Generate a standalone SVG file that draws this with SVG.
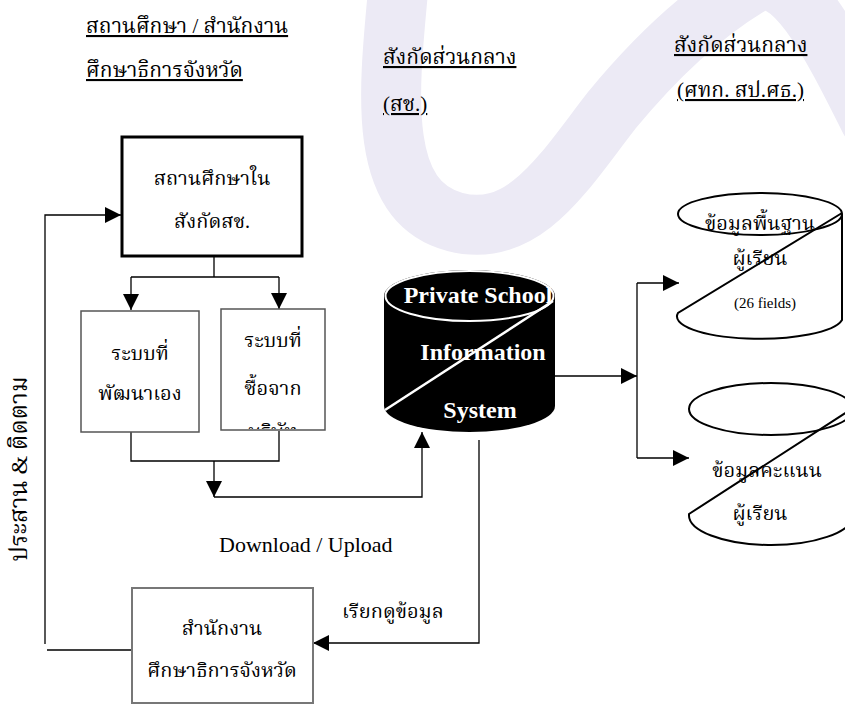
<svg xmlns="http://www.w3.org/2000/svg" width="845" height="704" viewBox="0 0 845 704">
<style>
.th{font-family:"Liberation Serif","Noto Serif Thai","Noto Sans Thai","DejaVu Sans",serif;font-size:20px;fill:#000}
.hd{text-decoration:underline;font-size:21px}
.vt{font-size:24px}
.en{font-family:"Liberation Serif","Times New Roman",serif;fill:#000}
.wb{font-family:"Liberation Serif","Times New Roman",serif;font-weight:bold;font-size:24px;fill:#fff;text-anchor:middle}
.c{text-anchor:middle}
.ln{fill:none;stroke:#000;stroke-width:1.3}
.bx{fill:#fff;stroke:#555;stroke-width:1.5}
.cyl{fill:none;stroke:#000;stroke-width:2}
</style>
<defs>
<marker id="ah" markerUnits="userSpaceOnUse" markerWidth="16" markerHeight="16" refX="16" refY="8" orient="auto" viewBox="0 0 16 16">
<path d="M0,0 L16,8 L0,16 z" fill="#000"/>
</marker>
<clipPath id="clipB3"><rect x="222" y="310" width="102" height="119"/></clipPath>
</defs>
<rect width="845" height="704" fill="#fff"/>
<g id="watermark">
<path d="M400,-30 C390,80 372,200 455,222 C525,240 565,170 612,110 C655,58 700,15 750,-15 C790,-40 830,40 870,120" fill="none" stroke="#eceaf5" stroke-width="60" stroke-linecap="round"/>
</g>
<g id="headers">
<text class="th hd" x="86" y="33">สถานศึกษา / สำนักงาน</text>
<text class="th hd" x="86" y="77">ศึกษาธิการจังหวัด</text>
<text class="th hd" x="383" y="64">สังกัดส่วนกลาง</text>
<text class="th hd" x="383" y="111">(สช.)</text>
<text class="th hd" x="674" y="52">สังกัดส่วนกลาง</text>
<text class="th hd" x="677" y="97">(ศทก. สป.ศธ.)</text>
</g>
<g id="connectors">
<path class="ln" d="M214,257 V277 M131,277 H279"/>
<path class="ln" d="M131,277 V310" marker-end="url(#ah)"/>
<path class="ln" d="M279,277 V309" marker-end="url(#ah)"/>
<path class="ln" d="M131,432 V461 H279 V431"/>
<path class="ln" d="M214,461 V497" marker-end="url(#ah)"/>
<path class="ln" d="M214,497 H422 V432" marker-end="url(#ah)"/>
<path class="ln" d="M479,440 V643 H313" marker-end="url(#ah)"/>
<path class="ln" d="M555,376 H637" marker-end="url(#ah)"/>
<path class="ln" d="M637,283 V458"/>
<path class="ln" d="M637,283 H679" marker-end="url(#ah)"/>
<path class="ln" d="M637,458 H689" marker-end="url(#ah)"/>
<path class="ln" d="M132,650 H47 M45,644 V215 H121" marker-end="url(#ah)"/>
</g>
<g id="n-school">
<rect x="122" y="137" width="180" height="119" fill="#fff" stroke="#000" stroke-width="3"/>
<text class="th c" x="212" y="185">สถานศึกษาใน</text>
<text class="th c" x="212" y="228">สังกัดสช.</text>
</g>
<g id="n-self">
<rect class="bx" x="81" y="311" width="118" height="121"/>
<text class="th c" x="140" y="360">ระบบที่</text>
<text class="th c" x="140" y="400">พัฒนาเอง</text>
</g>
<g id="n-bought">
<rect class="bx" x="221" y="309" width="104" height="121"/>
<g clip-path="url(#clipB3)">
<text class="th c" x="273" y="347">ระบบที่</text>
<text class="th c" x="273" y="395">ซื้อจาก</text>
<text class="th c" x="273" y="438">บริษัท</text>
</g>
</g>
<g id="n-psis">
<path d="M384,296 A85.5,26 0 0 1 555,296 V406 A85.5,26 0 0 1 384,406 Z" fill="#000"/>
<ellipse cx="469.5" cy="296" rx="84" ry="25" fill="none" stroke="#fff" stroke-width="2"/>
<line x1="385" y1="410" x2="553" y2="301" stroke="#fff" stroke-width="2.5"/>
<text class="wb" x="478" y="303">Private School</text>
<text class="wb" x="483" y="360">Information</text>
<text class="wb" x="480" y="418">System</text>
</g>
<g id="n-student">
<ellipse class="cyl" cx="760" cy="214" rx="82" ry="21"/>
<path class="cyl" d="M842,214 V320 A82,22 0 0 1 678,313 L842,213"/>
<text class="th c" x="760" y="230">ข้อมูลพื้นฐาน</text>
<text class="th c" x="760" y="265">ผู้เรียน</text>
<text class="en c" x="765" y="308" font-size="15">(26 fields)</text>
</g>
<g id="n-score">
<ellipse class="cyl" cx="771" cy="409" rx="82" ry="26"/>
<path class="cyl" d="M853,409 V516 A82,30 0 0 1 689,514 L850,410"/>
<text class="th c" x="767" y="477">ข้อมูลคะแนน</text>
<text class="th c" x="760" y="520">ผู้เรียน</text>
</g>
<g id="n-office">
<rect x="132" y="588" width="181" height="115" fill="#fff" stroke="#777" stroke-width="2"/>
<text class="th c" x="222" y="635">สำนักงาน</text>
<text class="th c" x="222" y="677">ศึกษาธิการจังหวัด</text>
</g>
<g id="labels">
<text class="en" x="219" y="552" font-size="22">Download / Upload</text>
<text class="th" x="342" y="618">เรียกดูข้อมูล</text>
<text class="th c vt" x="27" y="469" transform="rotate(-90 27 469)">ประสาน &amp; ติดตาม</text>
</g>
</svg>
